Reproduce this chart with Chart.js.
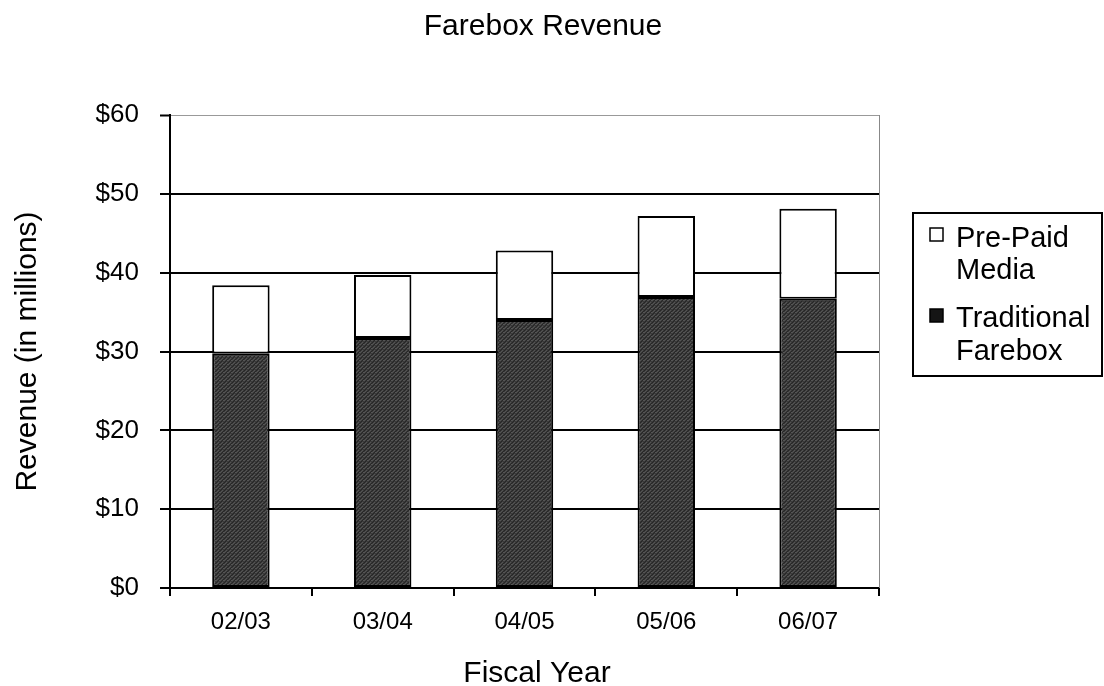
<!DOCTYPE html>
<html>
<head>
<meta charset="utf-8">
<script src="https://cdn.jsdelivr.net/npm/chart.js@4"></script>
<style>
html,body{margin:0;padding:0;background:#fff;}
#wrap{width:1104px;height:686px;position:relative;}
</style>
</head>
<body>
<div id="wrap"><canvas id="c" width="1104" height="686"></canvas></div>
<script>
const chartTitle = 'Farebox Revenue';
const xTitle = 'Fiscal Year';
const yTitle = 'Revenue (in millions)';
const categories = ['02/03', '03/04', '04/05', '05/06', '06/07'];
const traditionalFarebox = [29.7, 31.7, 34.0, 36.9, 36.7];
const prePaidMedia = [8.7, 8.0, 8.8, 10.3, 11.4];
const seriesNames = ['Pre-Paid Media', 'Traditional Farebox'];
const legendLines = [['Pre-Paid', 'Media'], ['Traditional', 'Farebox']];
const yTicks = [0, 10, 20, 30, 40, 50, 60];

const FONT = '"Liberation Sans", Arial, sans-serif';

// dither-like pattern for dark bars
function makePattern() {
  const p = document.createElement('canvas');
  p.width = 4; p.height = 4;
  const g = p.getContext('2d');
  g.fillStyle = '#3a3a3a'; g.fillRect(0, 0, 4, 4);
  g.fillStyle = '#555555';
  g.fillRect(0, 0, 1, 1); g.fillRect(2, 2, 1, 1); g.fillRect(3, 0, 1, 1); g.fillRect(1, 3, 1, 1);
  g.fillStyle = '#262626';
  g.fillRect(2, 0, 1, 1); g.fillRect(0, 2, 1, 1); g.fillRect(1, 1, 1, 1); g.fillRect(3, 3, 1, 1);
  return document.getElementById('c').getContext('2d').createPattern(p, 'repeat');
}
const darkFill = makePattern();

const decor = {
  id: 'decor',
  afterDraw(chart) {
    const ctx = chart.ctx;
    const a = chart.chartArea;
    ctx.save();
    // plot area right border
    ctx.strokeStyle = '#888';
    ctx.lineWidth = 1;
    ctx.beginPath();
    ctx.moveTo(a.right + 0.5, a.top);
    ctx.lineTo(a.right + 0.5, a.bottom);
    ctx.stroke();

    // title
    ctx.fillStyle = '#000';
    ctx.font = '30px ' + FONT;
    ctx.textAlign = 'center';
    ctx.textBaseline = 'alphabetic';
    ctx.fillText(chartTitle, 543, 35);
    // x title
    ctx.fillText(xTitle, 537, 682);

    // legend
    ctx.strokeStyle = '#000';
    ctx.lineWidth = 2;
    ctx.strokeRect(913, 213, 189, 163);
    ctx.font = '29px ' + FONT;
    ctx.textAlign = 'left';
    const items = [
      { fill: '#fff', sq: 228, base: [247, 279] , lines: legendLines[0]},
      { fill: '#151515', sq: 309, base: [327, 360], lines: legendLines[1]}
    ];
    items.forEach(it => {
      ctx.fillStyle = it.fill;
      ctx.fillRect(930, it.sq, 13, 13);
      ctx.lineWidth = 1.5;
      ctx.strokeStyle = '#000';
      ctx.strokeRect(930, it.sq, 13, 13);
      ctx.fillStyle = '#000';
      it.lines.forEach((t, i) => ctx.fillText(t, 956, it.base[i]));
    });
    ctx.restore();
  }
};

new Chart(document.getElementById('c'), {
  type: 'bar',
  data: {
    labels: categories,
    datasets: [
      {
        label: seriesNames[1],
        data: traditionalFarebox,
        backgroundColor: darkFill,
        borderColor: '#000',
        borderWidth: 2,
        borderSkipped: false,
        barPercentage: 0.405,
        categoryPercentage: 1
      },
      {
        label: seriesNames[0],
        data: prePaidMedia,
        backgroundColor: '#fff',
        borderColor: '#000',
        borderWidth: 2,
        borderSkipped: false,
        barPercentage: 0.405,
        categoryPercentage: 1
      }
    ]
  },
  options: {
    responsive: false,
    animation: false,
    devicePixelRatio: 1,
    layout: { padding: { top: 115, right: 225, left: 0, bottom: 0 } },
    plugins: {
      legend: { display: false },
      title: { display: false },
      tooltip: { enabled: false }
    },
    scales: {
      x: {
        stacked: true,
        afterFit(s) { s.height = 98; },
        grid: {
          offset: true,
          drawOnChartArea: false,
          drawTicks: true,
          tickLength: 8,
          tickColor: '#000',
          tickWidth: 2,
          lineWidth: 2
        },
        border: { color: '#000', width: 2 },
        ticks: {
          color: '#000',
          font: { family: FONT, size: 24 },
          padding: 12,
          maxRotation: 0
        },
        title: { display: false }
      },
      y: {
        stacked: true,
        min: 0,
        max: 60,
        afterFit(s) { s.width = 170; },
        afterBuildTicks(s) { s.ticks = yTicks.map(v => ({ value: v })); },
        grid: {
          color: c => (c.tick && c.tick.value === 60) ? '#999' : '#000',
          lineWidth: c => (c.tick && c.tick.value === 60) ? 1 : 2,
          drawTicks: true,
          tickLength: 10,
          tickColor: '#000',
          tickWidth: 2
        },
        border: { color: '#000', width: 2 },
        ticks: {
          color: '#000',
          font: { family: FONT, size: 26 },
          padding: 21,
          callback: v => '$' + v
        },
        title: {
          display: true,
          text: yTitle,
          color: '#000',
          font: { family: FONT, size: 30 },
          padding: { top: 10, bottom: 0 }
        }
      }
    }
  },
  plugins: [decor]
});
</script>
</body>
</html>
